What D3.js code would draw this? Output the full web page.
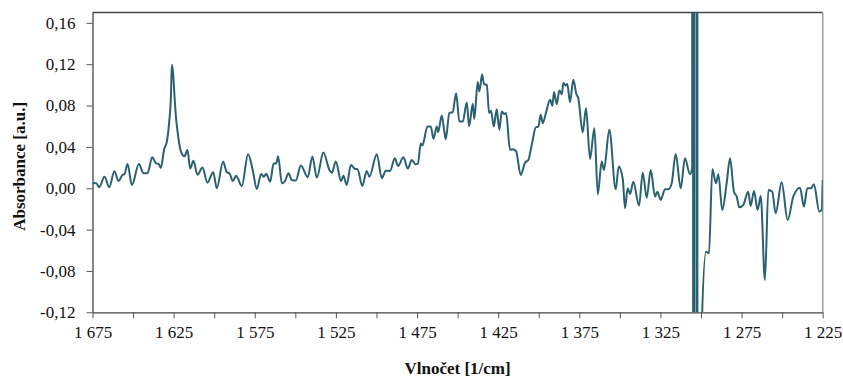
<!DOCTYPE html>
<html><head><meta charset="utf-8">
<script src="https://cdn.jsdelivr.net/npm/d3@7"></script>
<style>body{margin:0;background:#fff}svg{display:block}</style>
</head><body>
<svg id="c" width="843" height="378"></svg>
<script>
const wavenumbers = [1675,1672.7,1670.9,1667.6,1664.7,1661.5,1659.0,1656.5,1655.3,1653.4,1650.7,1646.4,1643.6,1641.1,1638.2,1635.8,1634.3,1632.9,1630.8,1629.2,1627.75,1626.7,1626.1,1625.3,1624.5,1623.4,1622.6,1620.5,1618.3,1616.5,1614.8,1612.8,1610.3,1607.2,1604.2,1600.6,1598.4,1594.5,1592.2,1590.6,1588.5,1586.5,1583.0,1579.1,1576.4,1573.7,1571.1,1569.4,1568.0,1565.5,1563.4,1561.8,1560.6,1558.3,1556.3,1554.25,1552.2,1549.7,1546.6,1542.3,1539.5,1536.75,1532.7,1529.0,1527.5,1525.05,1521.8,1520.4,1518.3,1515.8,1513.2,1511.7,1508.7,1506.0,1504.35,1499.8,1496.7,1494.25,1491.6,1488.7,1486.7,1483.4,1480.7,1478.2,1476.0,1474.5,1472.7,1471.7,1468.6,1466.5,1464.9,1462.8,1462.0,1459.75,1458.1,1457.3,1455.1,1453.0,1450.9,1448.9,1446.8,1444.35,1442.9,1440.65,1439.7,1437.6,1436.6,1434.9,1433.7,1432.0,1430.6,1429.4,1427.7,1425.9,1424.3,1422.8,1421.2,1420.1,1417.7,1416.0,1414.0,1411.1,1408.4,1406.4,1404.3,1401.8,1400.2,1398.8,1397.5,1395.5,1393.0,1391.6,1390.6,1388.9,1387.3,1385.8,1384.8,1383.2,1382.4,1380.7,1378.7,1376.8,1375.6,1372.9,1370.85,1368.4,1365.7,1363.6,1361.2,1359.8,1356.5,1352.55,1350.7,1348.2,1346.8,1345.2,1343.7,1341.7,1338.2,1335.9,1333.45,1331.0,1328.3,1326.9,1324.8,1322.2,1320.1,1318.05,1315.6,1312.5,1309.9,1306.8,1305.42,1305.05,1304.68,1304.31,1303.94,1302.89,1302.40,1302.03,1299.63,1296.9,1295.1,1293.0,1290.8,1289.3,1286.9,1284.2,1282.1,1279.7,1278.0,1276.4,1273.9,1270.9,1269.4,1267.35,1265.1,1263.2,1260.6,1258.5,1256.1,1254.0,1250.3,1246.6,1243.1,1239.0,1236.55,1234.5,1232.2,1230.4,1227.1,1225.6,1225];
const absorbance = [0.005,0.0049,0.001,0.011,0.001,0.0165,0.007,0.013,0.0136,0.0235,0.003,0.0235,0.0145,0.0145,0.030,0.024,0.0235,0.0197,0.038,0.045,0.064,0.0875,0.1195,0.111,0.090,0.066,0.055,0.0355,0.031,0.037,0.019,0.0265,0.013,0.020,0.0054,0.0155,0.000,0.0258,0.0155,0.0145,0.007,0.012,0.0022,0.033,0.0187,-0.0007,0.0139,0.011,0.014,0.0064,0.024,0.024,0.031,0.0048,0.007,0.0145,0.008,0.0074,0.022,0.0107,0.0306,0.0103,0.0345,0.0177,0.015,0.0258,0.007,0.012,0.0032,0.0226,0.0187,0.0184,0.0022,0.0168,0.0112,0.033,0.0097,0.017,0.0168,0.029,0.0216,0.030,0.019,0.0274,0.0233,0.0236,0.0432,0.0413,0.0597,0.0597,0.0478,0.0597,0.0543,0.0703,0.054,0.0475,0.0727,0.0737,0.092,0.0645,0.0645,0.083,0.060,0.0817,0.067,0.1027,0.0936,0.110,0.1008,0.1000,0.0727,0.075,0.0597,0.0765,0.0565,0.0742,0.0717,0.0727,0.0371,0.0378,0.036,0.0129,0.0248,0.0274,0.042,0.059,0.0597,0.071,0.063,0.0733,0.0855,0.0798,0.093,0.0814,0.0945,0.091,0.1017,0.0994,0.1008,0.0833,0.105,0.091,0.087,0.054,0.0775,0.0284,0.058,-0.0058,0.0258,0.0177,0.0565,-0.001,0.021,0.0087,-0.0194,0.0,-0.0055,0.0064,-0.0168,0.0151,-0.0091,0.0177,-0.0081,-0.0033,-0.0113,-0.001,-0.001,0.0048,0.0332,0.0,0.029,0.0136,0.02,8,-8,8,-8,-8,8,-8,-0.14,-0.0614,-0.063,0.0187,0.0048,0.0136,-0.021,0.0048,0.029,-0.0033,-0.008,-0.0184,-0.016,-0.0033,-0.0171,-0.0026,-0.021,-0.0075,-0.0888,-0.0016,-0.0033,-0.0242,0.0058,-0.0307,-0.008,0.0006,-0.0178,0.0,0.0,0.0039,-0.0226,-0.021,0.008];
const xTicks = [1675,1625,1575,1525,1475,1425,1375,1325,1275,1225];
const xMinorTicks = [1650,1600,1550,1500,1450,1400,1350,1300,1250];
const yTicks = [-0.12,-0.08,-0.04,0,0.04,0.08,0.12,0.16];
const xTitle = "Vlnočet [1/cm]";
const yTitle = "Absorbance [a.u.]";

const svg = d3.select("#c");
const L = 92.5, R = 822.7, T = 12.5, B = 312.3;
const x = d3.scaleLinear().domain([1675,1225]).range([L,R]);
const y = d3.scaleLinear().domain([-0.12,0.17]).range([B,T]);
const font = "'Liberation Serif','Times New Roman',serif";

svg.append("defs").append("clipPath").attr("id","clip")
  .append("rect").attr("x",L).attr("y",T).attr("width",R-L).attr("height",B-T);

// frame top & right
svg.append("line").attr("x1",L).attr("x2",R).attr("y1",T).attr("y2",T).attr("stroke","#444").attr("stroke-width",1.3);
svg.append("line").attr("x1",R).attr("x2",R).attr("y1",T).attr("y2",B).attr("stroke","#999").attr("stroke-width",1.5);

const fmtX = d => { const s = String(d); return s.length>3 ? s.slice(0,s.length-3)+" "+s.slice(-3) : s; };
const fmtY = d => d3.format(".2f")(d).replace(".",",").replace("\u2212","-");

const xAxis = svg.append("g").attr("transform",`translate(0,${B})`)
  .call(d3.axisBottom(x).tickValues(xTicks.concat(xMinorTicks).sort((a,b)=>b-a)).tickSizeInner(6).tickSizeOuter(0)
    .tickFormat(d => xTicks.includes(d) ? fmtX(d) : ""));
xAxis.select(".domain").attr("stroke","#444").attr("stroke-width",1.3);
xAxis.selectAll(".tick line").attr("stroke","#555");
xAxis.selectAll("text").attr("font-family",font).attr("font-size","17px").attr("fill","#111").attr("dy","1.05em").attr("y",8);

const yAxis = svg.append("g").attr("transform",`translate(${L},0)`)
  .call(d3.axisLeft(y).tickValues(yTicks).tickSizeInner(6).tickSizeOuter(0).tickPadding(11).tickFormat(fmtY));
yAxis.select(".domain").attr("stroke","#444").attr("stroke-width",1.3);
yAxis.selectAll(".tick line").attr("stroke","#555");
yAxis.selectAll("text").attr("font-family",font).attr("font-size","17px").attr("fill","#111");

const data = wavenumbers.map((w,i)=>({w, a: absorbance[i]}));
svg.append("path").datum(data).attr("clip-path","url(#clip)")
  .attr("fill","none").attr("stroke","#2a6170").attr("stroke-width",2).attr("stroke-linejoin","round")
  .attr("d", d3.line().x(d=>x(d.w)).y(d=>y(d.a)).curve(d3.curveMonotoneX));

svg.append("text").attr("x",(L+R)/2).attr("y",374).attr("text-anchor","middle")
  .attr("font-family",font).attr("font-weight","bold").attr("font-size","17px").attr("fill","#111").text(xTitle);
svg.append("text").attr("transform",`translate(25,${(T+B)/2+4}) rotate(-90)`).attr("text-anchor","middle")
  .attr("font-family",font).attr("font-weight","bold").attr("font-size","17px").attr("fill","#111").text(yTitle);
</script>
</body></html>
